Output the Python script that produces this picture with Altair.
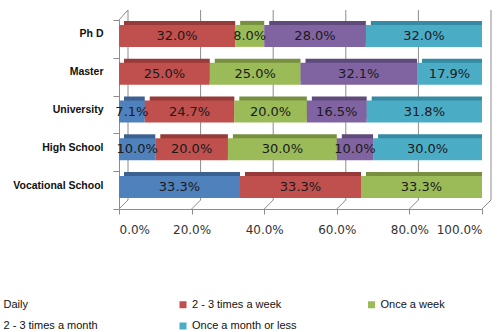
import altair as alt
import pandas as pd

# Education levels (top to bottom) and visit-frequency series (stack order)
levels = ["Ph D", "Master", "University", "High School", "Vocational School"]
series = ["Daily", "2 - 3 times a week", "Once a week",
          "2 - 3 times a month", "Once a month or less"]

# Percentage shares per level, one list per series (same order as levels)
daily = [0.0, 0.0, 7.1, 10.0, 33.3]
times_week = [32.0, 25.0, 24.7, 20.0, 33.3]
once_week = [8.0, 25.0, 20.0, 30.0, 33.3]
times_month = [28.0, 32.1, 16.5, 10.0, 0.0]
once_month = [32.0, 17.9, 31.8, 30.0, 0.0]

tick_values = [0.0, 0.2, 0.4, 0.6, 0.8, 1.0]

face_colors = ["#4F81BD", "#C0504D", "#9BBB59", "#8064A2", "#4BACC6"]
shade_colors = ["#3A6190", "#963B39", "#76903F", "#5F4A7C", "#348BA3"]

LINE = "#8C8C8C"
SANS = "Liberation Sans, Arial, sans-serif"
DEPTH = 9

rows = []
for rank, (name, vals) in enumerate(zip(series, [daily, times_week, once_week, times_month, once_month])):
    for lvl, v in zip(levels, vals):
        rows.append({"level": lvl, "series": name, "rank": rank, "pct": v})
df = pd.DataFrame(rows)
ticks_df = pd.DataFrame({"tick": tick_values})

xscale = alt.Scale(domain=[0, 1], nice=False, zero=True)
yscale = alt.Scale(domain=levels, paddingInner=0, paddingOuter=0)

x_axis = alt.Axis(values=tick_values, format=".1%", grid=False, title=None,
                  tickSize=5, labelPadding=10, domainColor=LINE, tickColor=LINE,
                  labelFont="DejaVu Sans", labelFontSize=12, labelColor="#333333")
y_axis = alt.Axis(tickBand="extent", tickSize=6, labelPadding=10, labelOffset=-5, title=None,
                  domainColor=LINE, tickColor=LINE, labelFont=SANS,
                  labelFontSize=10.5, labelFontWeight="bold", labelColor="#111111")

stacked = alt.Chart(df).transform_stack(
    stack="pct", groupby=["level"], as_=["x0", "x1"], offset="normalize",
    sort=[alt.SortField("rank", order="ascending")]
).transform_calculate(
    mid="(datum.x0 + datum.x1) / 2",
    label="format(datum.pct, '.1f') + '%'"
).transform_filter("datum.pct > 0")

# Back wall gridlines
back_grid = alt.Chart(ticks_df).mark_rule(color=LINE, strokeWidth=1, xOffset=DEPTH).encode(
    x=alt.X("tick:Q", scale=xscale, axis=x_axis),
    y=alt.value(-10), y2=alt.value(180)
)

# Floor edges running from the front axis to the back wall
floor = alt.Chart(ticks_df).mark_rule(color=LINE, strokeWidth=1, x2Offset=DEPTH).encode(
    x=alt.X("tick:Q", scale=xscale, axis=x_axis), x2="tick:Q",
    y=alt.value(189), y2=alt.value(180)
)

# Top edge of the left wall
wall_top = alt.Chart(ticks_df).transform_filter("datum.tick == 0").mark_rule(
    color=LINE, strokeWidth=1, x2Offset=DEPTH
).encode(
    x=alt.X("tick:Q", scale=xscale, axis=x_axis), x2="tick:Q",
    y=alt.value(0), y2=alt.value(-10)
)

# Darker copies give the bars their top and side faces
shade = stacked.mark_bar(size=22, xOffset=5, yOffset=-7).encode(
    x=alt.X("x0:Q", scale=xscale, axis=x_axis),
    x2="x1:Q",
    y=alt.Y("level:N", sort=levels, scale=yscale, axis=y_axis),
    color=alt.Color("series:N", scale=alt.Scale(domain=series, range=shade_colors), legend=None)
)

bars = stacked.mark_bar(size=22, yOffset=-3).encode(
    x=alt.X("x0:Q", scale=xscale, axis=x_axis),
    x2="x1:Q",
    y=alt.Y("level:N", sort=levels, scale=yscale, axis=y_axis),
    color=alt.Color("series:N", scale=alt.Scale(domain=series, range=face_colors),
                    legend=alt.Legend(title=None, orient="none", legendX=-130, legendY=279,
                                      direction="horizontal", columns=3, gridAlign="all",
                                      columnPadding=68.5, rowPadding=9.5,
                                      symbolType="square", symbolSize=49,
                                      symbolStrokeWidth=0, labelOffset=3.5, labelFont=SANS,
                                      labelFontSize=11, labelColor="#111111", padding=0,
                                      labelLimit=300))
)

labels = stacked.mark_text(
    font="DejaVu Sans", fontSize=13, color="#1A1A1A", yOffset=-3
).encode(
    x=alt.X("mid:Q", scale=xscale, axis=x_axis),
    y=alt.Y("level:N", sort=levels, scale=yscale, axis=y_axis),
    text="label:N"
)

chart = alt.layer(back_grid, floor, wall_top, shade, bars, labels).resolve_scale(
    color="independent"
).properties(
    width=363, height=189,
    autosize=alt.AutoSizeParams(type="none"),
    padding={"left": 119, "top": 20, "right": 20, "bottom": 123},
    background="white"
).configure_view(stroke="transparent")

chart.save("out.html", embed_options={"renderer": "svg", "actions": False})
